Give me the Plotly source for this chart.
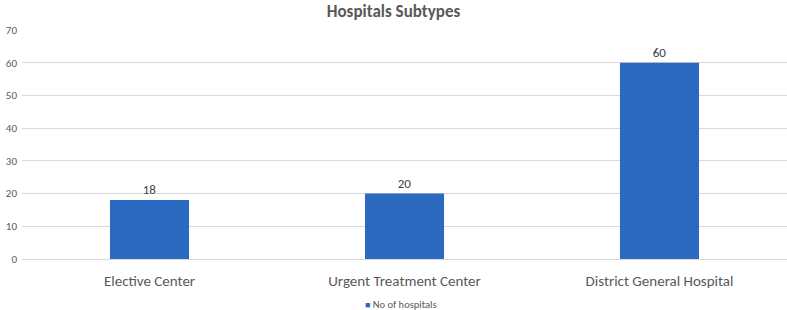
import plotly.graph_objects as go

categories = ["Elective Center", "Urgent Treatment Center", "District General Hospital"]
values = [18, 20, 60]
series_name = "No of hospitals"
y_ticks = [0, 10, 20, 30, 40, 50, 60, 70]

font_family = "Calibri, Carlito, Lato, 'Open Sans', sans-serif"
grey = "#595959"
bar_color = "#2C6AC1"

fig = go.Figure()
fig.add_trace(go.Bar(
    x=categories, y=values, name=series_name,
    marker=dict(color=bar_color, line=dict(width=0)),
    width=0.31,
    text=values, textposition="outside",
    textfont=dict(size=13, color="#404040", family=font_family),
    cliponaxis=False,
    showlegend=False,
))

fig.update_layout(
    width=787, height=310,
    margin=dict(l=22, r=0, t=30, b=51),
    paper_bgcolor="white", plot_bgcolor="white",
    title=dict(text="<b>Hospitals Subtypes</b>", x=0.5, xanchor="center",
               y=1 - 11 / 310, yanchor="middle",
               font=dict(size=17, color=grey, family=font_family)),
    font=dict(family=font_family, color=grey),
    showlegend=False,
    bargap=0.69,
)
# legend drawn as a text annotation: small square + series name
fig.add_annotation(
    text=f"<span style='color:{bar_color};font-size:9px'>■</span> {series_name}",
    xref="paper", yref="paper", x=0.5 - 0.005, y=-0.2, xanchor="center", yanchor="middle",
    showarrow=False, font=dict(size=10.5, color=grey, family=font_family),
)
fig.update_xaxes(showgrid=False, showline=True, linecolor="#D9D9D9", linewidth=1,
                 ticks="", tickfont=dict(size=15, color=grey, family=font_family),
                 ticklabelstandoff=8)
fig.update_yaxes(range=[0, 70], tickvals=y_ticks, showgrid=True, gridcolor="#D9D9D9",
                 gridwidth=1, zeroline=False, showline=False, ticks="",
                 tickfont=dict(size=11, color=grey, family=font_family), ticklabelstandoff=4)

fig.write_html("out.html", config={"displayModeBar": False},
               post_script="document.body.style.margin='0';document.body.style.overflow='hidden';")
